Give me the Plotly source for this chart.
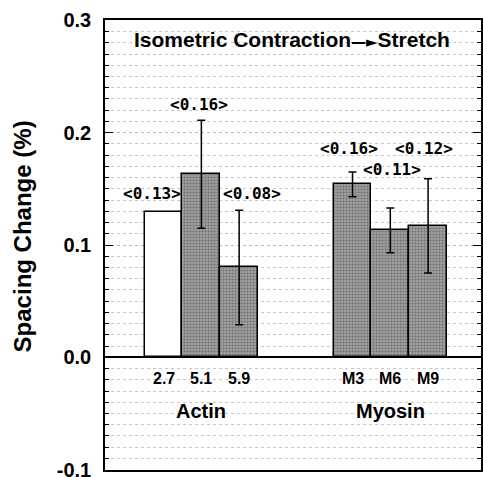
import plotly.graph_objects as go

categories = ["2.7", "5.1", "5.9", "M3", "M6", "M9"]
positions = [0, 1, 2, 5, 6, 7]
values = [0.129, 0.163, 0.080, 0.154, 0.113, 0.117]
errors = [None, 0.048, 0.051, 0.011, 0.020, 0.042]
labels = ["<0.13>", "<0.16>", "<0.08>", "<0.16>", "<0.11>", "<0.12>"]
group_names = ["Actin", "Myosin"]
group_centers = [1, 6]

FONT = "Liberation Sans"
fill_colors = ["white", "#a0a0a0", "#a0a0a0", "#a0a0a0", "#a0a0a0", "#a0a0a0"]
shapes_pat = ["", ".", ".", ".", ".", "."]

fig = go.Figure()
fig.add_trace(go.Bar(
    x=positions, y=values, width=1.0,
    marker=dict(color=fill_colors,
                line=dict(color="black", width=1.5),
                pattern=dict(shape=shapes_pat, fgcolor="#3a3a3a", bgcolor="#b0b0b0",
                             size=3, solidity=0.4)),
    showlegend=False,
))

ex = [p for p, e in zip(positions, errors) if e is not None]
ey = [v for v, e in zip(values, errors) if e is not None]
ee = [e for e in errors if e is not None]
fig.add_trace(go.Scatter(
    x=ex, y=ey, mode="markers", marker=dict(size=0.1, color="rgba(0,0,0,0)"),
    error_y=dict(type="data", array=ee, visible=True, color="black", thickness=1.5, width=4),
    showlegend=False, hoverinfo="skip",
))

# value labels (positions in data coordinates)
label_x = [-0.3, 0.95, 2.35, 4.9, 6.05, 6.9]
label_y = [0.146, 0.225, 0.146, 0.186, 0.167, 0.186]
for lx, ly, t in zip(label_x, label_y, labels):
    fig.add_annotation(x=lx, y=ly, text=t, showarrow=False,
                       font=dict(family="DejaVu Sans Mono", size=16, color="black", weight="bold"))

for p, c in zip(positions, categories):
    fig.add_annotation(x=p, y=-0.019, text=c, showarrow=False,
                       font=dict(family=FONT, size=16, color="black", weight="bold"))
for gc, gn in zip(group_centers, group_names):
    fig.add_annotation(x=gc, y=-0.048, text=gn, showarrow=False,
                       font=dict(family=FONT, size=20, color="black", weight="bold"))

fig.add_annotation(x=3.4, y=0.283,
                   text="Isometric Contraction<span style='font-family:DejaVu Sans;font-size:15px'>\u2014\u25BA</span>Stretch",
                   showarrow=False,
                   font=dict(family=FONT, size=21, color="black", weight="bold"))

fig.add_annotation(xref="paper", yref="paper", x=0, y=0.518, xshift=-98,
                   text="Spacing Change (%)", textangle=-90, showarrow=False,
                   font=dict(family=FONT, size=24, color="black", weight="bold"))

fig.update_xaxes(range=[-1.55, 8.4], showticklabels=False, ticks="",
                 showline=True, linecolor="black", linewidth=1.5, mirror=True,
                 showgrid=False, zeroline=False, automargin=False)
fig.update_yaxes(range=[-0.1003, 0.3003], tickvals=[-0.1, 0.0, 0.1, 0.2, 0.3],
                 ticktext=["-0.1", "0.0", "0.1", "0.2", "0.3"],
                 ticklabeloverflow="allow", automargin=False,
                 ticks="inside", ticklen=8, tickwidth=1.2, tickcolor="black",
                 showline=True, linecolor="black", linewidth=1.5, mirror="ticks",
                 showgrid=True, gridcolor="#b8b8b8", griddash="dot", gridwidth=1,
                 zeroline=True, zerolinecolor="black", zerolinewidth=2,
                 ticklabelstandoff=8,
                 tickfont=dict(family=FONT, size=20, color="black", weight="bold"),
                 minor=dict(tickvals=[i / 100 for i in range(-10, 31)], ticks="inside",
                            ticklen=4, tickcolor="black",
                            showgrid=True, gridcolor="#c8c8c8", griddash="dot", gridwidth=1))

fig.update_layout(width=483, height=477, margin=dict(l=105, r=2, t=20, b=7),
                  plot_bgcolor="white", paper_bgcolor="white", bargap=0)
fig.write_html("out.html")
